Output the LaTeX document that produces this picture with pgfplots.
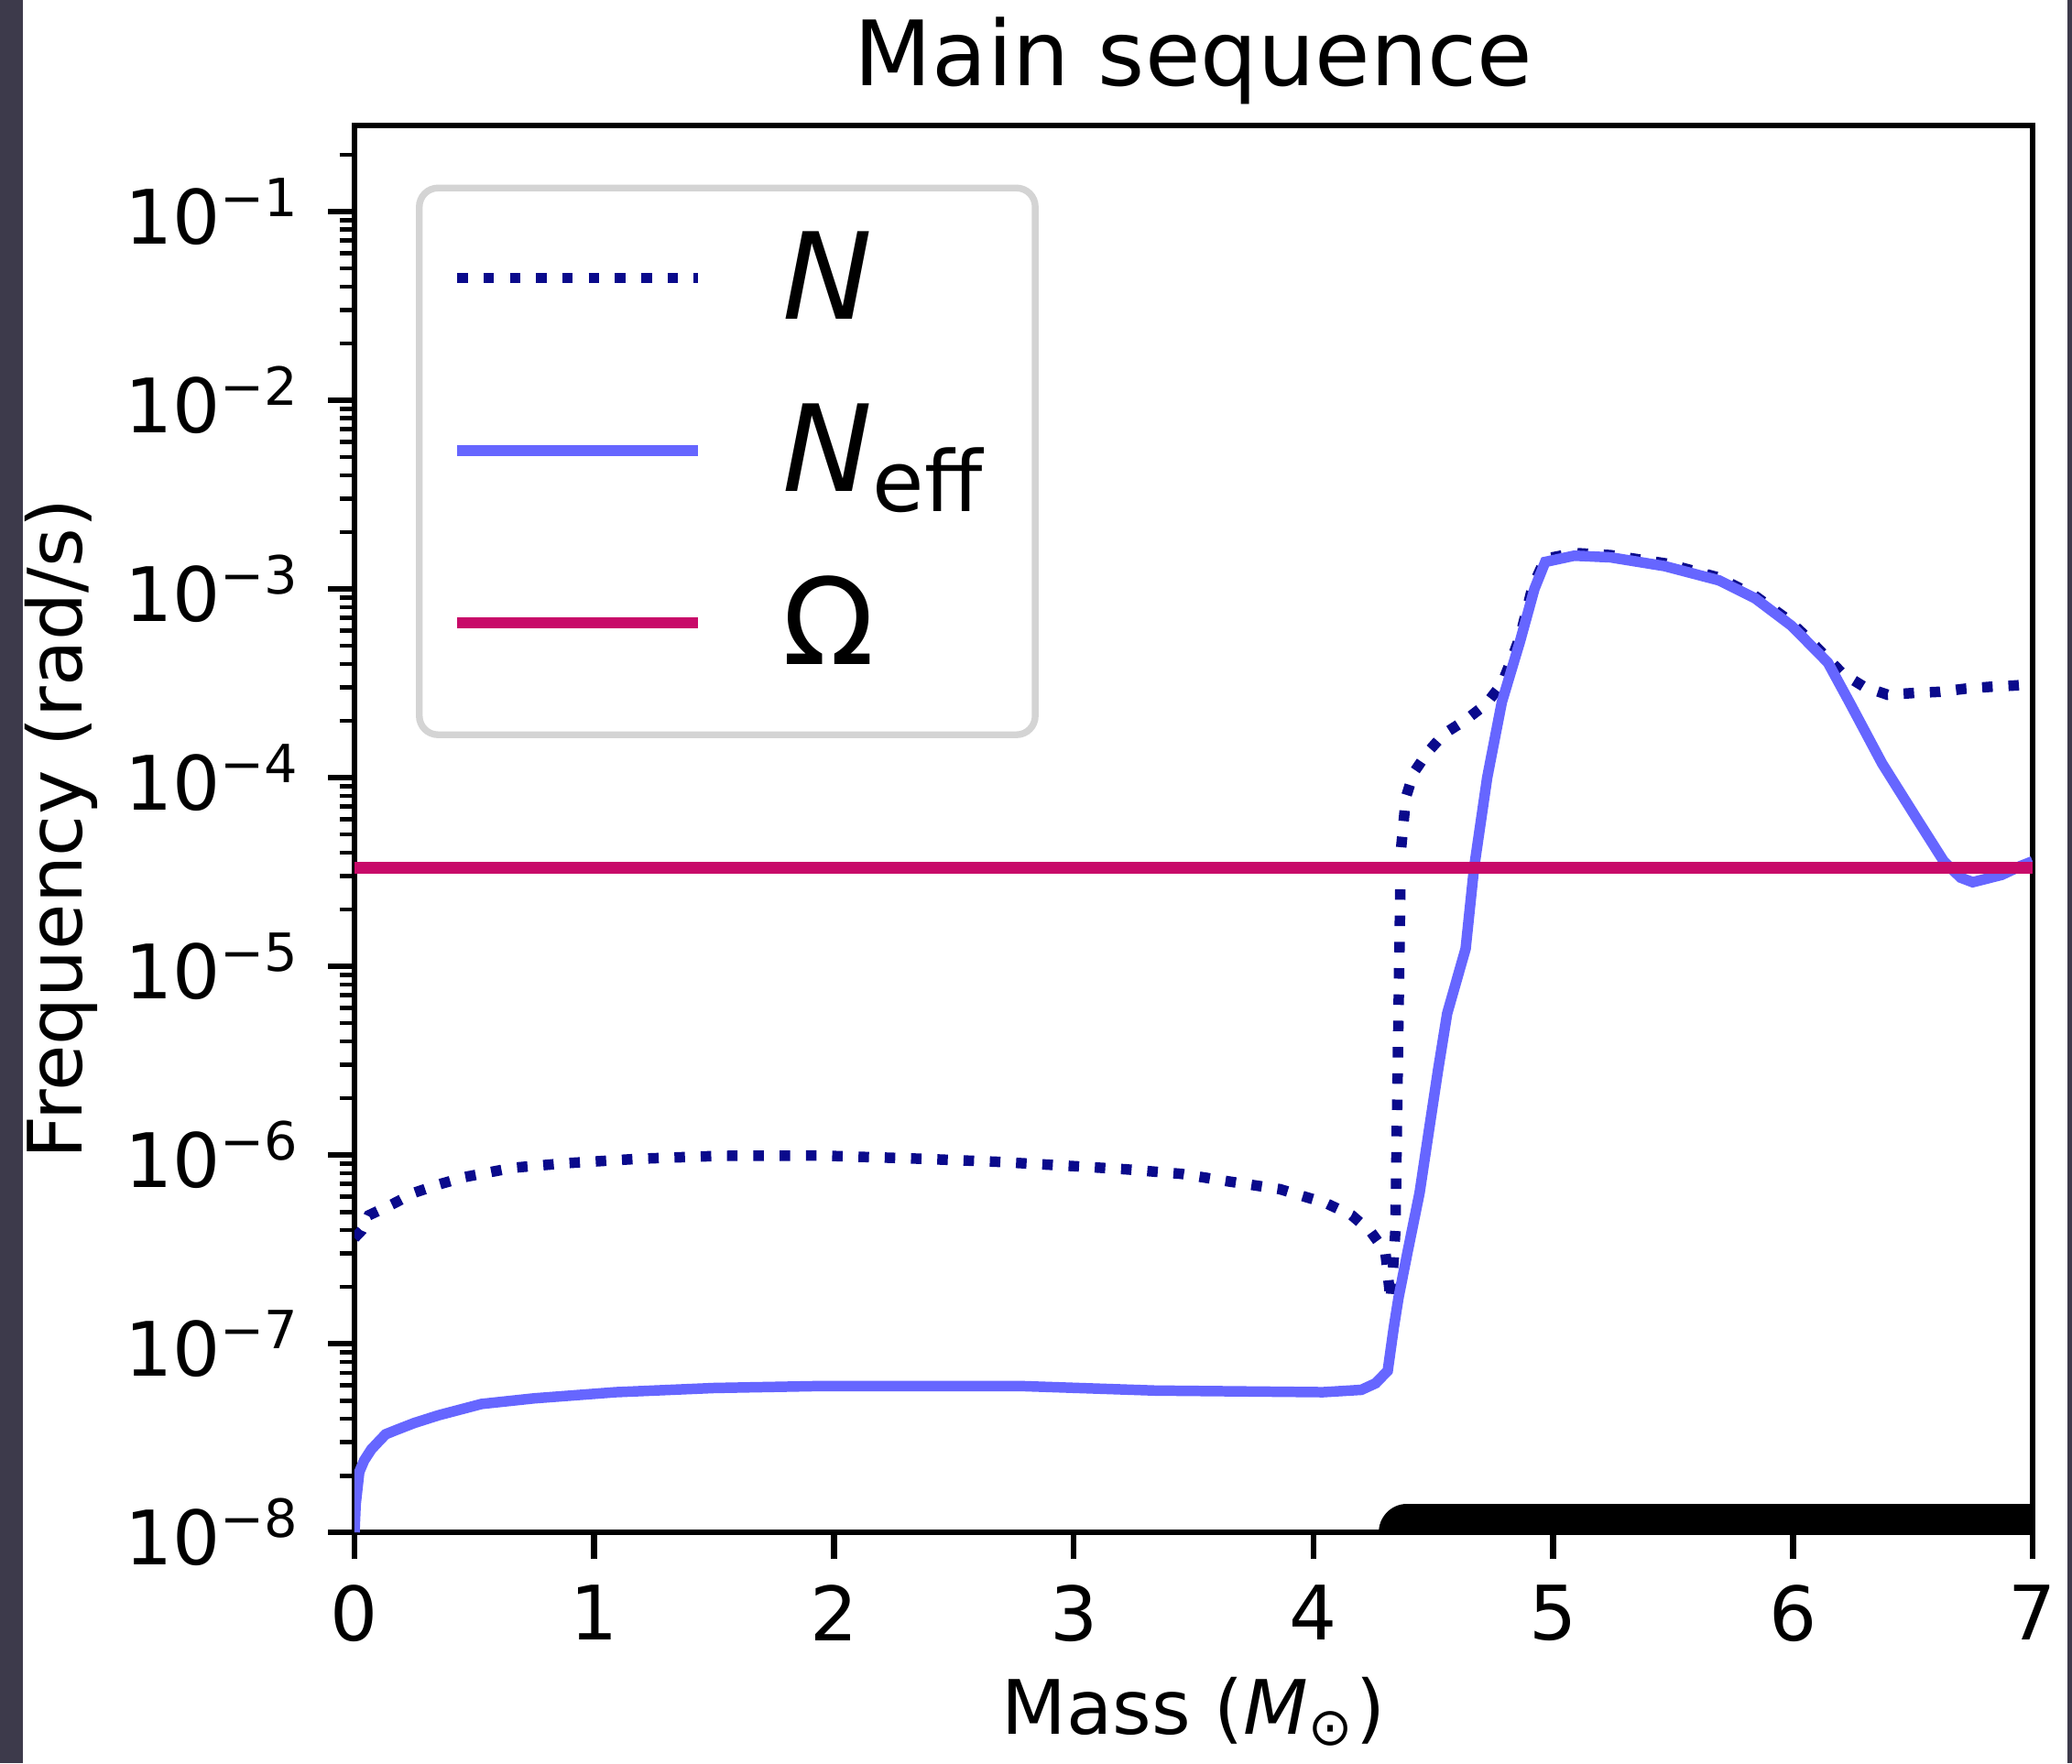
\documentclass[border=0pt]{standalone}
\usepackage{fontspec}
\setmainfont{DejaVu Sans}
\usepackage{pgfplots}
\pgfplotsset{compat=1.18}
\definecolor{bgdark}{RGB}{61,58,75}
\definecolor{ncol}{RGB}{10,10,140}
\definecolor{neffcol}{RGB}{102,102,255}
\definecolor{omcol}{RGB}{200,10,105}
\pgfplotsset{omegalegend/.style={legend image code/.code={\draw[##1, line cap=butt] (0pt,0pt) -- (32pt,0pt); \path[draw=none] (0pt,-8.4pt) -- (0pt,0pt);}}}
\begin{document}
\begin{tikzpicture}
\path[use as bounding box] (-47.195pt,-30.732pt) rectangle (228.659pt,204.024pt);
\fill[bgdark] (-47.195pt,-30.732pt) rectangle (228.659pt,204.024pt);
\fill[white] (-44.146pt,-30.732pt) rectangle (228.049pt,204.024pt);
\begin{axis}[
  at={(0pt,0pt)}, anchor=south west,
  scale only axis, width=223.415pt, height=187.317pt,
  xmin=0, xmax=7, ymode=log, ymin=1e-8, ymax=0.2858,
  axis line style={line width=0.8pt},
  tick align=outside, tick pos=left,
  major tick length=3.5pt, minor tick length=2pt,
  every tick/.style={black, line width=0.8pt},
  every minor tick/.style={black, line width=0.6pt},
  xtick={0,1,2,3,4,5,6,7}, xticklabels={0,1,2,3,4,5,6,7},
  ytick={1e-8,1e-7,1e-6,1e-5,1e-4,1e-3,1e-2,1e-1},
  yticklabels={10\textsuperscript{−8},10\textsuperscript{−7},10\textsuperscript{−6},10\textsuperscript{−5},10\textsuperscript{−4},10\textsuperscript{−3},10\textsuperscript{−2},10\textsuperscript{−1}},
  minor ytick={2e-8,3e-8,4e-8,5e-8,6e-8,7e-8,8e-8,9e-8,
    2e-7,3e-7,4e-7,5e-7,6e-7,7e-7,8e-7,9e-7,
    2e-6,3e-6,4e-6,5e-6,6e-6,7e-6,8e-6,9e-6,
    2e-5,3e-5,4e-5,5e-5,6e-5,7e-5,8e-5,9e-5,
    2e-4,3e-4,4e-4,5e-4,6e-4,7e-4,8e-4,9e-4,
    2e-3,3e-3,4e-3,5e-3,6e-3,7e-3,8e-3,9e-3,
    2e-2,3e-2,4e-2,5e-2,6e-2,7e-2,8e-2,9e-2,2e-1},
  ticklabel style={font=\fontsize{10}{12}\selectfont},
  title={Main sequence},
  title style={font=\fontsize{12}{14}\selectfont, at={(axis description cs:0.5,1.02845)}, anchor=base, yshift=-6pt},
  xlabel={Mass (\textit{M}\textsubscript{⊙})},
  xlabel style={font=\fontsize{10}{12}\selectfont, at={(axis description cs:0.5,-0.1434)}, anchor=base},
  ylabel={Frequency (rad/s)},
  ylabel style={font=\fontsize{10}{12}\selectfont, at={(axis description cs:-0.1625,0.5)}, anchor=base, rotate=0},
  legend style={
    at={(axis description cs:0.0366,0.958)}, anchor=north west,
    draw=black!17, line width=0.9pt, rounded corners=2.5pt, fill=white,
    font=\fontsize{16}{19}\selectfont,
    inner xsep=4.3pt, inner ysep=6.5pt,
    row sep=11.95pt, column sep=10.6pt,
    nodes={inner sep=0pt, text height=11pt, text depth=0pt},
  },
  legend cell align=left,
  legend image code/.code={\draw[#1, line cap=butt] (0pt,0pt) -- (32pt,0pt);},
]
\addplot[ncol, line width=1.4pt, line cap=butt, dash pattern=on 1.4pt off 2.1pt] coordinates {
(0,3.63e-7) (0.03,3.98e-7) (0.06,4.79e-7) (0.16,5.50e-7) (0.25,6.31e-7)
(0.35,6.97e-7) (0.46,7.64e-7) (0.66,8.55e-7) (0.88,9.04e-7) (1.19,9.55e-7)
(1.52,9.89e-7) (1.94,9.93e-7) (2.36,9.55e-7) (2.68,9.20e-7) (3.01,8.71e-7)
(3.22,8.39e-7) (3.45,7.94e-7) (3.65,7.23e-7) (3.86,6.59e-7) (4.05,5.57e-7)
(4.16,4.79e-7) (4.24,3.91e-7) (4.30,3.07e-7) (4.322,1.70e-7) (4.335,2.82e-7)
(4.342,3.98e-7) (4.355,5.62e-6) (4.365,4.11e-5) (4.386,7.87e-5) (4.418,1.06e-4)
(4.476,1.36e-4) (4.546,1.71e-4) (4.635,2.02e-4) (4.72,2.45e-4) (4.786,3.14e-4)
(4.824,4.15e-4) (4.862,5.60e-4) (4.915,1.035e-3) (4.967,1.445e-3) (5.09,1.55e-3)
(5.24,1.51e-3) (5.47,1.365e-3) (5.69,1.15e-3) (5.84,9.23e-4) (5.98,6.87e-4)
(6.055,5.60e-4) (6.131,4.47e-4) (6.206,3.57e-4) (6.297,3.03e-4) (6.395,2.75e-4)
(6.508,2.81e-4) (6.614,2.85e-4) (6.72,2.96e-4) (6.826,3.03e-4) (6.931,3.08e-4)
(7.0,3.13e-4)};
\addlegendentry{\makebox[29.3pt][l]{\textit{N}}}
\addplot[neffcol, line width=1.4pt] coordinates {
(0,1.0e-8) (0.005,1.41e-8) (0.02,2.09e-8) (0.04,2.4e-8) (0.07,2.75e-8) (0.1,3.02e-8)
(0.13,3.31e-8) (0.18,3.51e-8) (0.25,3.80e-8) (0.35,4.17e-8) (0.53,4.79e-8)
(0.75,5.13e-8) (1.09,5.53e-8) (1.5,5.82e-8) (1.94,5.96e-8) (2.78,5.96e-8)
(3.34,5.64e-8) (4.04,5.53e-8) (4.20,5.69e-8) (4.26,6.17e-8) (4.31,7.18e-8)
(4.335,1.21e-7) (4.355,1.75e-7) (4.393,3.07e-7) (4.443,6.31e-7) (4.482,1.35e-6)
(4.52,2.82e-6) (4.558,5.62e-6) (4.635,1.24e-5) (4.67,3.31e-5) (4.725,1.0e-4)
(4.786,2.51e-4) (4.862,5.28e-4) (4.922,1.0e-3) (4.967,1.39e-3) (5.088,1.50e-3)
(5.239,1.47e-3) (5.466,1.32e-3) (5.692,1.11e-3) (5.843,8.91e-4) (5.995,6.37e-4)
(6.146,4.07e-4) (6.236,2.51e-4) (6.372,1.19e-4) (6.524,5.86e-5) (6.629,3.61e-5)
(6.70,2.95e-5) (6.75,2.79e-5) (6.871,3.05e-5) (6.95,3.4e-5) (7.0,3.6e-5)};
\addlegendentry{\makebox[29.3pt][l]{\textit{N}\textsubscript{eff}}}
\addplot[omcol, line width=1.5pt, omegalegend] coordinates {(0,3.33e-5) (7,3.33e-5)};
\addlegendentry{\makebox[29.3pt][l]{Ω}}
\addplot[black, line width=7.5pt, line cap=round, forget plot] coordinates {(4.39,1e-8) (7,1e-8)};
\end{axis}
\end{tikzpicture}
\end{document}
